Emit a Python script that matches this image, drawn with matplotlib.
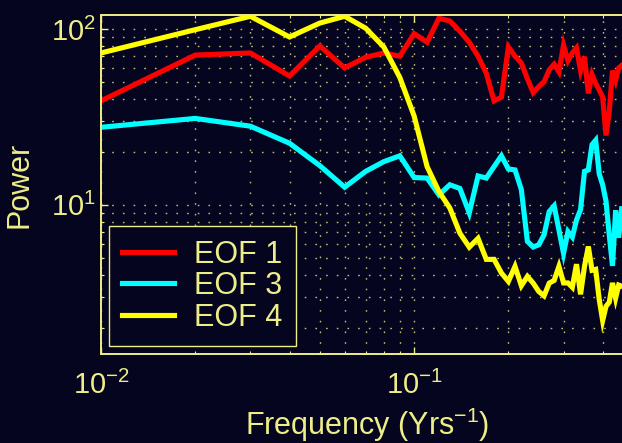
import matplotlib
matplotlib.use('Agg')
import matplotlib.pyplot as plt
import numpy as np
from matplotlib.ticker import LogLocator, LogFormatterMathtext, NullFormatter

# frequency grid: k / 100 cycles per year, k = 1..46
freq = np.arange(1, 47) / 100.0

eof1 = [39, 71, 73, 54, 80, 60, 69, 73, 70, 94,
        84, 115, 111, 97, 84, 70, 56, 39, 41, 79,
        70, 64, 52, 43.5, 47, 50, 58.5, 63, 57, 81,
        66, 73, 78, 58, 69.5, 43, 55, 49, 45, 41,
        24.8, 34, 58, 51, 60, 62]

eof3 = [27.6, 31, 28, 22.4, 16.7, 12.6, 15.5, 17.6, 19, 14.3,
        14.2, 11.4, 13, 12.4, 9.0, 14.6, 14.2, 16.5, 19, 16,
        15.8, 12.2, 6.2, 5.76, 5.93, 6.76, 9.16, 9.87, 7.2, 5.3,
        7.05, 6.56, 8.2, 9.4, 15.5, 15.8, 22, 23.3, 15, 13,
        10.5, 6.7, 4.5, 9.3, 6.5, 9.5]

eof4 = [73, 99, 118, 90, 108, 118, 101, 79, 53, 32,
        16.5, 11.9, 9.6, 6.9, 5.75, 6.45, 4.9, 4.9, 4.1, 3.67,
        4.47, 3.47, 3.92, 3.59, 3.22, 3.04, 3.59, 3.72, 4.47, 3.6,
        3.6, 3.4, 4.6, 3.1, 4.47, 5.8, 4.25, 4.3, 2.9, 2.2,
        2.65, 2.8, 3.6, 2.95, 3.5, 3.45]

series_labels = ['EOF 1', 'EOF 3', 'EOF 4']
series_colors = ['#ff0000', '#00ffff', '#ffff00']

bg = '#05051f'
fg = '#eeee88'
grid_col = '#bcbc78'

plt.rcParams['font.family'] = ['Liberation Sans', 'DejaVu Sans']
plt.rcParams['mathtext.fontset'] = 'custom'
plt.rcParams['mathtext.rm'] = 'Liberation Sans'
plt.rcParams['mathtext.it'] = 'Liberation Sans:italic'
plt.rcParams['mathtext.bf'] = 'Liberation Sans:bold'

fig = plt.figure(figsize=(6.22, 4.43), dpi=100, facecolor=bg)
# axes runs a little past the right edge of the figure
ax = fig.add_axes([101 / 622, 89 / 443, 532 / 622, 339 / 443], facecolor=bg)

for vals, lab, col in zip([eof1, eof3, eof4], series_labels, series_colors):
    ax.loglog(freq, vals, color=col, lw=3.7, label=lab, solid_joinstyle='miter')

ax.set_xlim(0.01, 0.5)
ax.set_ylim(1.42, 120)

ax.xaxis.set_major_locator(LogLocator(base=10))
ax.yaxis.set_major_locator(LogLocator(base=10))
ax.xaxis.set_minor_locator(LogLocator(base=10, subs=np.arange(2, 10)))
ax.yaxis.set_minor_locator(LogLocator(base=10, subs=np.arange(2, 10)))
ax.xaxis.set_major_formatter(LogFormatterMathtext())
ax.yaxis.set_major_formatter(LogFormatterMathtext())
ax.xaxis.set_minor_formatter(NullFormatter())
ax.yaxis.set_minor_formatter(NullFormatter())

ax.grid(True, which='both', color=grid_col, linestyle=(0, (1.2, 6.5)), linewidth=1.0)

for sp in ax.spines.values():
    sp.set_color(fg)
    sp.set_linewidth(1.4)

ax.tick_params(which='both', direction='in', top=True, right=True, colors=fg)
ax.tick_params(which='major', length=5, width=1.0, labelsize=21)
ax.tick_params(which='minor', length=2.5, width=0.8)
ax.tick_params(axis='x', which='major', pad=12)
ax.tick_params(axis='y', which='major', pad=4)

ax.set_ylabel('Power', fontsize=22, color=fg)
ax.yaxis.set_label_coords(-0.125, 0.5)
ax.set_xlabel('Frequency (Yrs$^{-1}$)', fontsize=22, color=fg)
ax.xaxis.set_label_coords(0.5, -0.152)
ax.xaxis.label.set_va('top')

leg = ax.legend(loc='lower left', fontsize=22, frameon=True, fancybox=False,
                borderaxespad=0.25, handlelength=1.7, handletextpad=0.65,
                labelspacing=0.05, borderpad=0.45)
leg.get_frame().set_facecolor(bg)
leg.get_frame().set_edgecolor(fg)
leg.get_frame().set_linewidth(1.0)
leg.get_frame().set_alpha(1.0)
for txt in leg.get_texts():
    txt.set_color(fg)
for h in leg.get_lines():
    h.set_linewidth(3.7)

fig.savefig('out.png', dpi=100, facecolor=bg)
